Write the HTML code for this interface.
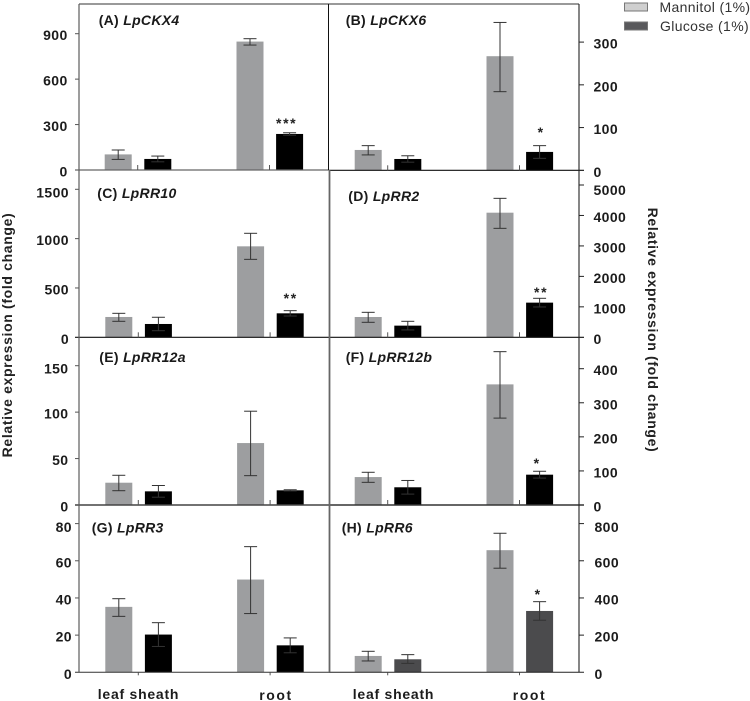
<!DOCTYPE html>
<html lang="en">
<head>
<meta charset="utf-8">
<title>Relative expression of cytokinin genes</title>
<style>
html,body{margin:0;padding:0;background:#fff;width:750px;height:701px;overflow:hidden}
svg{display:block}
text{font-family:"Liberation Sans",sans-serif}
.tick{font-size:14px;font-weight:700;fill:#1c1c1c;letter-spacing:.4px}
.title{font-size:14px;font-weight:700;fill:#1a1a1a;letter-spacing:.3px}
.title .gene{font-style:italic}
.axis-title{font-size:14px;font-weight:700;fill:#222;letter-spacing:.65px}
.cat{font-size:14px;font-weight:700;fill:#1c1c1c;letter-spacing:.75px}
.cat-root{letter-spacing:1.6px}
.legend{font-size:14px;fill:#333;letter-spacing:.35px}
.star{font-size:14px;font-weight:700;fill:#222;letter-spacing:1.6px}
</style>
</head>
<body>
<svg id="chart" xmlns="http://www.w3.org/2000/svg" width="750" height="701" viewBox="0 0 750 701">
  <g id="marks"></g>
  <line x1="79" y1="4" x2="579" y2="4" stroke="#333" stroke-width="1"/>
  <line x1="79" y1="4" x2="79" y2="672" stroke="#5c5c5c" stroke-width="1.2"/>
  <line x1="328.5" y1="4" x2="328.5" y2="170" stroke="#111" stroke-width="1"/>
  <line x1="329.5" y1="170" x2="329.5" y2="672" stroke="#666" stroke-width="1.8"/>
  <line x1="579" y1="4" x2="579" y2="672" stroke="#222" stroke-width="1.1"/>
  <text class="axis-title" text-anchor="middle" transform="translate(12,335) rotate(-90)">Relative expression (fold change)</text>
  <text class="axis-title" text-anchor="middle" transform="translate(648,330) rotate(90)">Relative expression (fold change)</text>
  <text class="cat" x="138.5" y="699" text-anchor="middle">leaf sheath</text>
  <text class="cat cat-root" x="276" y="700" text-anchor="middle">root</text>
  <text class="cat" x="393.5" y="699" text-anchor="middle">leaf sheath</text>
  <text class="cat cat-root" x="529.5" y="700" text-anchor="middle">root</text>
  <g>
    <rect x="624.5" y="3" width="23" height="8" fill="#cfcfcf" stroke="#777" stroke-width="1"/>
    <text class="legend" x="659.5" y="12">Mannitol (1%)</text>
    <rect x="624.5" y="22" width="23" height="8" fill="#59595c" stroke="#777" stroke-width="1"/>
    <text class="legend" x="660" y="31">Glucose (1%)</text>
  </g>
</svg>
<script>
// Each value array is ordered: leaf sheath mannitol, leaf sheath glucose, root mannitol, root glucose
const valuesA = [103, 73, 848, 238];
const upperA = [132, 92, 867, 246];
const lowerA = [70, 54, 825, 230];
const ticksA = [0, 300, 600, 900];
const starsA = ['', '', '', '***'];

const valuesB = [47.6, 26.5, 267, 43];
const upperB = [57.7, 34, 346, 57.7];
const lowerB = [36, 19, 184, 28];
const ticksB = [0, 100, 200, 300];
const starsB = ['', '', '', '*'];

const valuesC = [206, 135, 922, 243];
const upperC = [243, 203, 1054, 270];
const lowerC = [162, 67, 790, 216];
const ticksC = [0, 500, 1000, 1500];
const starsC = ['', '', '', '**'];

const valuesD = [667, 383, 4091, 1138];
const upperD = [820, 525, 4562, 1280];
const lowerD = [492, 241, 3577, 996];
const ticksD = [0, 1000, 2000, 3000, 4000, 5000];
const starsD = ['', '', '', '**'];

const valuesE = [24, 14.7, 66.7, 15.8];
const upperE = [32, 21, 101, 16.4];
const lowerE = [15.4, 8.4, 31.6, 15.2];
const ticksE = [0, 50, 100, 150];
const starsE = ['', '', '', ''];

const valuesF = [82, 52, 354, 89];
const upperF = [96, 72, 450, 99];
const lowerF = [66.5, 32, 255, 79];
const ticksF = [0, 100, 200, 300, 400];
const starsF = ['', '', '', '*'];

const valuesG = [35.2, 20.3, 49.9, 14.5];
const upperG = [39.6, 26.7, 67.6, 18.5];
const lowerG = [30.1, 13.9, 31.6, 10.5];
const ticksG = [0, 20, 40, 60, 80];
const starsG = ['', '', '', ''];

const valuesH = [88, 70, 657, 330];
const upperH = [113, 95, 748, 380];
const lowerH = [61, 48, 560, 280];
const ticksH = [0, 200, 400, 600, 800];
const starsH = ['', '', '', '*'];

const panelLetters = ['A', 'B', 'C', 'D', 'E', 'F', 'G', 'H'];
const geneNames = ['LpCKX4', 'LpCKX6', 'LpRR10', 'LpRR2', 'LpRR12a', 'LpRR12b', 'LpRR3', 'LpRR6'];
const panelValues = [valuesA, valuesB, valuesC, valuesD, valuesE, valuesF, valuesG, valuesH];
const panelUpper = [upperA, upperB, upperC, upperD, upperE, upperF, upperG, upperH];
const panelLower = [lowerA, lowerB, lowerC, lowerD, lowerE, lowerF, lowerG, lowerH];
const panelTicks = [ticksA, ticksB, ticksC, ticksD, ticksE, ticksF, ticksG, ticksH];
const panelStars = [starsA, starsB, starsC, starsD, starsE, starsF, starsG, starsH];

// Layout only: baseline, pixels per data unit, bar origin, title anchor and tweaks
const layout = [
  {base:170,   ppu:136.3/900,  x0:104.7, side:'L', tx:98.7,  ty:25,    labelX:67.7, line:'#666', gap:11, starDx:-3.5, topDy:0, lineW:1.2, down:false},
  {base:170.3, ppu:128.2/300,  x0:354.7, side:'R', tx:345.7, ty:25,    labelX:593.5, line:'#111', gap:15, starDx:1, topDy:0, lineW:1.2, down:false},
  {base:337.3, ppu:148/1500,   x0:105.3, side:'L', tx:97.3,  ty:198,   labelX:69,   line:'#111', gap:14, starDx:0, topDy:1.5, lineW:1.2, down:false},
  {base:337.3, ppu:152.3/5000, x0:354.7, side:'R', tx:348.3, ty:201,   labelX:593.5, line:'#111', gap:8, starDx:1, topDy:3.5, lineW:1.2, down:false},
  {base:505,   ppu:139.3/150,  x0:105.3, side:'L', tx:99.3,  ty:362,   labelX:68.5, line:'#444', gap:10, starDx:0, topDy:1.5, lineW:1.5, down:false},
  {base:505,   ppu:136.3/400,  x0:354.7, side:'R', tx:345.7, ty:362,   labelX:593.5, line:'#333', gap:10, starDx:-3, topDy:0, lineW:1.5, down:false},
  {base:672.3, ppu:148.7/80,   x0:105.3, side:'L', tx:91.7,  ty:532.3, labelX:72,   line:'#333', gap:10, starDx:0, topDy:2, lineW:1,   down:true},
  {base:672.3, ppu:148.7/800,  x0:354.7, side:'R', tx:341.7, ty:532.3, labelX:594.5, line:'#222', gap:9, starDx:-2, topDy:2, lineW:1,   down:true}
];

const SVG_NS = 'http://www.w3.org/2000/svg';
const root = document.getElementById('marks');

function shape(parent, tag, props) {
  const el = document.createElementNS(SVG_NS, tag);
  for (const key in props) el.setAttribute(key, props[key]);
  parent.appendChild(el);
  return el;
}
function yScale(cfg, value) { return cfg.base - value * cfg.ppu; }
function xBar(cfg, index) {
  const categoryIndex = Math.floor(index / 2);
  const seriesIndex = index % 2;
  return cfg.x0 + categoryIndex * 131.8 + seriesIndex * 39.6;
}
function barFill(panelIndex, index) {
  if (index % 2 === 0) return '#9d9ea0';
  return panelIndex === 7 ? '#4b4b4d' : '#000';
}

panelLetters.forEach(function (letter, p) {
  const cfg = layout[p];
  const id = letter.toLowerCase();
  const group = shape(root, 'g', {});
  
  

  panelValues[p].forEach(function (value, i) {
    const x = xBar(cfg, i);
    const y = yScale(cfg, value);
    const bar = shape(group, 'rect', {x: x, y: y, width: 27, height: cfg.base - y, fill: barFill(p, i)});
    
    

    const cx = x + 13.5;
    const yUp = yScale(cfg, panelUpper[p][i]);
    const yLow = yScale(cfg, panelLower[p][i]);
    const stem = shape(group, 'line', {x1: cx, x2: cx, y1: yUp, y2: yLow, stroke: '#333', 'stroke-width': 1});
    
    
    const capTop = shape(group, 'line', {x1: cx - 6.5, x2: cx + 6.5, y1: yUp, y2: yUp, stroke: '#333', 'stroke-width': 1});
    
    
    const capLow = shape(group, 'line', {x1: cx - 6.5, x2: cx + 6.5, y1: yLow, y2: yLow, stroke: '#333', 'stroke-width': 1});
    
    

    const mark = panelStars[p][i];
    if (mark) {
      const star = shape(group, 'text', {x: cx + cfg.starDx + 0.5, y: yUp - cfg.gap + 6.5, 'text-anchor': 'middle', class: 'star'});
      star.textContent = mark;
      
      
    }
  });

  // Baseline, extending past the axis toward its tick labels
  const baseX1 = cfg.side === 'L' ? 75 : 329;
  const baseX2 = cfg.side === 'L' ? 329 : 584;
  const baseline = shape(group, 'line', {x1: baseX1, x2: baseX2, y1: cfg.base, y2: cfg.base, stroke: cfg.line, 'stroke-width': cfg.lineW});
  
  

  // Small category ticks between the paired bars
  [0, 2].forEach(function (i) {
    const mx = xBar(cfg, i) + 33;
    const tickEnd = cfg.down ? cfg.base + 3 : cfg.base - 5;
    const minor = shape(group, 'line', {x1: mx, x2: mx, y1: cfg.base, y2: tickEnd, stroke: '#555', 'stroke-width': 1});
    
    
  });

  // Value ticks and labels
  panelTicks[p].forEach(function (tick, t) {
    const y = yScale(cfg, tick);
    if (tick !== 0) {
      const tx1 = cfg.side === 'L' ? 75 : 579;
      const tx2 = cfg.side === 'L' ? 79 : 584;
      const mark = shape(group, 'line', {x1: tx1, x2: tx2, y1: y, y2: y, stroke: cfg.side === 'L' ? '#555' : '#222', 'stroke-width': 1});
      
      
    }
    const isTop = t === panelTicks[p].length - 1;
    const label = shape(group, 'text', {x: cfg.labelX, y: y + 6.5 + (isTop ? cfg.topDy : 0), class: 'tick', 'text-anchor': cfg.side === 'L' ? 'end' : 'start'});
    label.textContent = String(tick);
    
    
  });

  // Panel heading
  const title = shape(group, 'text', {x: cfg.tx, y: cfg.ty, class: 'title'});
  
  
  const tag = shape(title, 'tspan', {});
  tag.textContent = '(' + letter + ') ';
  const gene = shape(title, 'tspan', {class: 'gene'});
  gene.textContent = geneNames[p];
});
</script>
</body>
</html>
